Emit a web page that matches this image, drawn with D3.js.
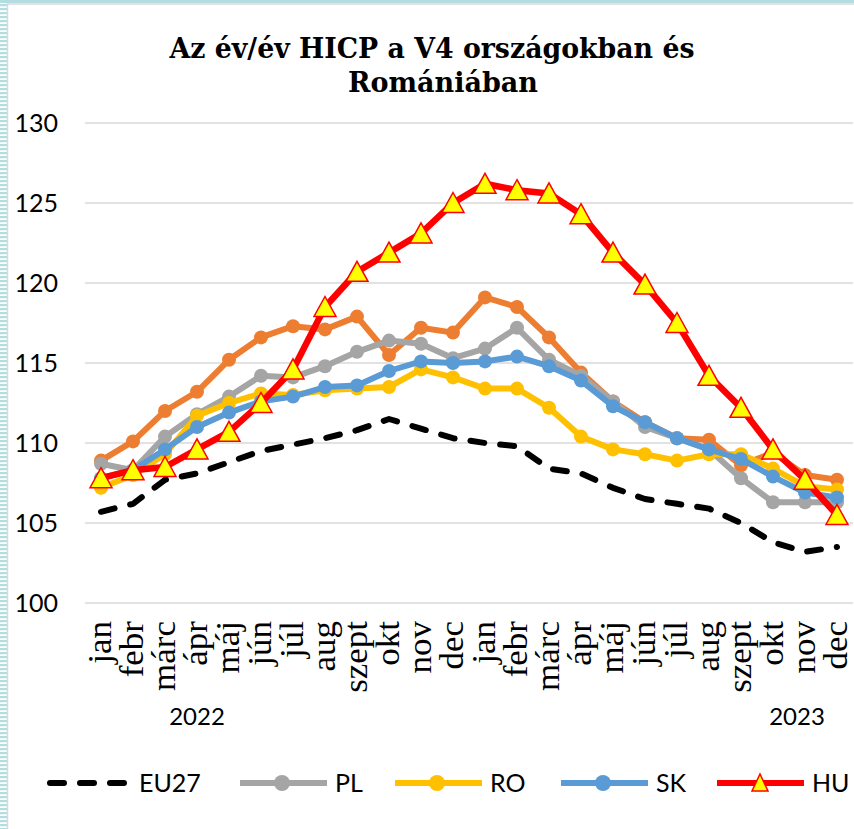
<!DOCTYPE html>
<html>
<head>
<meta charset="utf-8">
<script src="https://cdn.jsdelivr.net/npm/d3@7"></script>
<style>
    body { margin: 0; background: #fff; }
    svg { display: block; }
</style>
</head>
<body>
<svg id="hicp_svg" width="854" height="829"></svg>
<script>
// Az év/év HICP - 2022 jan .. 2023 dec
const months = ['jan', 'febr', 'márc', 'ápr', 'máj', 'jún', 'júl', 'aug', 'szept', 'okt', 'nov', 'dec',
    'jan', 'febr', 'márc', 'ápr', 'máj', 'jún', 'júl', 'aug', 'szept', 'okt', 'nov', 'dec'];
const years = ['2022', '2023'];
const yTicks = [100, 105, 110, 115, 120, 125, 130];

const eu27 = [105.7, 106.2, 107.7, 108.1, 108.8, 109.5, 109.9, 110.3, 110.8, 111.5, 110.9, 110.3,
    110.0, 109.8, 108.4, 108.1, 107.2, 106.5, 106.2, 105.9, 105.0, 103.8, 103.2, 103.5];
const cz = [108.9, 110.1, 112.0, 113.2, 115.2, 116.6, 117.3, 117.1, 117.9, 115.5, 117.2, 116.9,
    119.1, 118.5, 116.6, 114.4, 112.6, 111.3, 110.3, 110.2, 108.6, 109.4, 108.0, 107.7];
const pl = [108.7, 108.3, 110.4, 111.8, 112.9, 114.2, 114.1, 114.8, 115.7, 116.4, 116.2, 115.3,
    115.9, 117.2, 115.2, 114.2, 112.6, 111.0, 110.3, 109.6, 107.8, 106.3, 106.3, 106.3];
const ro = [107.2, 108.0, 109.3, 111.7, 112.5, 113.1, 113.0, 113.3, 113.4, 113.5, 114.6, 114.1,
    113.4, 113.4, 112.2, 110.4, 109.6, 109.3, 108.9, 109.3, 109.3, 108.4, 107.3, 107.1];
const sk = [107.8, 108.3, 109.6, 111.0, 111.9, 112.6, 112.9, 113.5, 113.6, 114.5, 115.1, 115.0,
    115.1, 115.4, 114.8, 113.9, 112.3, 111.3, 110.3, 109.6, 109.0, 107.9, 106.9, 106.6];
const hu = [107.8, 108.3, 108.5, 109.6, 110.7, 112.5, 114.6, 118.5, 120.7, 121.9, 123.1, 125.0,
    126.2, 125.8, 125.6, 124.3, 121.9, 119.9, 117.5, 114.2, 112.2, 109.6, 107.7, 105.5];

// series in drawing order (CZ is drawn but has no legend entry)
const series = [
    { name: 'EU27', values: eu27, color: '#000000', marker: 'none', dashed: true, legend: true },
    { name: 'CZ', values: cz, color: '#ED7D31', marker: 'circle', legend: false },
    { name: 'PL', values: pl, color: '#A5A5A5', marker: 'circle', legend: true },
    { name: 'RO', values: ro, color: '#FFC000', marker: 'circle', legend: true },
    { name: 'SK', values: sk, color: '#5B9BD5', marker: 'circle', legend: true },
    { name: 'HU', values: hu, color: '#FF0000', marker: 'triangle', legend: true }
];

let svg = d3.select('#hicp_svg');
const width = 854, height = 829;
const margin = { top: 123, bottom: 226, left: 85, right: 1 };
const innerWidth = width - margin.left - margin.right;
const innerHeight = height - margin.top - margin.bottom;

// frame decoration on the left / top edge
const pat = svg.append('defs').append('pattern')
    .attr('id', 'stripes').attr('width', 8).attr('height', 4)
    .attr('patternUnits', 'userSpaceOnUse');
pat.append('rect').attr('width', 8).attr('height', 4).attr('fill', '#fff');
pat.append('rect').attr('width', 8).attr('height', 2.2).attr('fill', '#B3DDE0');
svg.append('rect').attr('x', 0).attr('y', 0).attr('width', 7).attr('height', height).attr('fill', 'url(#stripes)');
svg.append('rect').attr('x', 0).attr('y', 0).attr('width', width).attr('height', 3).attr('fill', '#B3DDE0');
svg.append('line').attr('x1', 7.5).attr('x2', 7.5).attr('y1', 3).attr('y2', height)
    .style('stroke', '#D9D9D9').style('stroke-width', 1.5);
svg.append('line').attr('x1', 7).attr('x2', width).attr('y1', 4).attr('y2', 4)
    .style('stroke', '#D9D9D9').style('stroke-width', 1.5);

// title
const titleLines = [
    { text: 'Az év/év HICP a V4 országokban és', x: 432, y: 58, len: 525 },
    { text: 'Romániában', x: 443, y: 92, len: 190 }
];
svg.selectAll('.title')
    .data(titleLines)
    .join('text')
    .classed('title', true)
    .attr('x', d => d.x)
    .attr('y', d => d.y)
    .attr('text-anchor', 'middle')
    .attr('textLength', d => d.len)
    .attr('lengthAdjust', 'spacingAndGlyphs')
    .style('font-family', '"DejaVu Serif", serif')
    .style('font-weight', 'bold')
    .style('font-size', '27px')
    .text(d => d.text);

let xScale = d3.scalePoint()
    .domain(d3.range(months.length))
    .range([margin.left, margin.left + innerWidth])
    .padding(0.5);
let yScale = d3.scaleLinear()
    .domain([100, 130])
    .range([margin.top + innerHeight, margin.top]);

// gridlines + y labels
svg.selectAll('.grid')
    .data(yTicks)
    .join('line')
    .classed('grid', true)
    .attr('x1', margin.left)
    .attr('x2', margin.left + innerWidth)
    .attr('y1', d => yScale(d))
    .attr('y2', d => yScale(d))
    .style('stroke', '#D9D9D9')
    .style('stroke-width', 1.5);
svg.selectAll('.y-label')
    .data(yTicks)
    .join('text')
    .classed('y-label', true)
    .attr('x', margin.left - 27)
    .attr('y', d => yScale(d) + 9)
    .attr('text-anchor', 'end')
    .style('font-family', 'Lato, sans-serif')
    .style('font-size', '25px')
    .style('fill', '#000')
    .text(d => d);

// x labels, rotated
svg.selectAll('.x-label')
    .data(months)
    .join('text')
    .classed('x-label', true)
    .attr('transform', (d, i) => `translate(${xScale(i) + 10},${margin.top + innerHeight + 18}) rotate(-90) scale(1.06,1)`)
    .attr('text-anchor', 'end')
    .style('font-family', '"Liberation Serif", "Times New Roman", serif')
    .style('font-size', '33px')
    .style('fill', '#000')
    .text(d => d);

const yearPos = [3, 21.75];
svg.selectAll('.year-label')
    .data(years)
    .join('text')
    .classed('year-label', true)
    .attr('x', (d, i) => xScale(0) + (xScale(1) - xScale(0)) * yearPos[i])
    .attr('y', margin.top + innerHeight + 122)
    .attr('text-anchor', 'middle')
    .style('font-family', 'Lato, sans-serif')
    .style('font-size', '24px')
    .text(d => d);

// lines
const line = d3.line()
    .x((d, i) => xScale(i))
    .y(d => yScale(d));

const triPath = 'M0,-10.5L11,9.5L-11,9.5Z';

series.forEach(s => {
    let sg = svg.append('g');
    sg.append('path')
        .datum(s.values)
        .attr('d', line)
        .style('fill', 'none')
        .style('stroke', s.color)
        .style('stroke-width', s.name == 'HU' ? 6.5 : 6)
        .style('stroke-linejoin', 'round')
        .style('stroke-linecap', 'round')
        .style('stroke-dasharray', s.dashed ? '14 16' : null);
    if (s.marker == 'circle') {
        sg.selectAll('circle')
            .data(s.values)
            .join('circle')
            .attr('cx', (d, i) => xScale(i))
            .attr('cy', d => yScale(d))
            .attr('r', 7)
            .style('fill', s.color);
    } else if (s.marker == 'triangle') {
        sg.selectAll('path.tri')
            .data(s.values)
            .join('path')
            .classed('tri', true)
            .attr('d', triPath)
            .attr('transform', (d, i) => `translate(${xScale(i)},${yScale(d)})`)
            .style('fill', '#FFFF00')
            .style('stroke', '#FF0000')
            .style('stroke-width', 1.5);
    }
});

// legend
const legendX = [46, 240, 395, 561, 717];
const legendY = 783;
let legend = svg.append('g');
series.filter(s => s.legend).forEach((s, i) => {
    let lg = legend.append('g').attr('transform', `translate(${legendX[i]},${legendY})`);
    lg.append('line')
        .attr('x1', s.dashed ? 4 : 0)
        .attr('x2', s.dashed ? 80 : 87)
        .style('stroke', s.color)
        .style('stroke-width', 6)
        .style('stroke-linecap', s.dashed ? 'round' : 'butt')
        .style('stroke-dasharray', s.dashed ? '14 16' : null);
    if (s.marker == 'circle') {
        lg.append('circle').attr('cx', 42).attr('r', 8).style('fill', s.color);
    } else if (s.marker == 'triangle') {
        lg.append('path').attr('d', 'M0,-9L8,8L-8,8Z')
            .attr('transform', 'translate(43,0)')
            .style('fill', '#FFFF00')
            .style('stroke', '#FF0000')
            .style('stroke-width', 1.5);
    }
    lg.append('text')
        .attr('x', s.dashed ? 93 : 95)
        .attr('y', 9)
        .style('font-family', 'Lato, sans-serif')
        .style('font-size', '25px')
        .text(s.name);
});
</script>
</body>
</html>
